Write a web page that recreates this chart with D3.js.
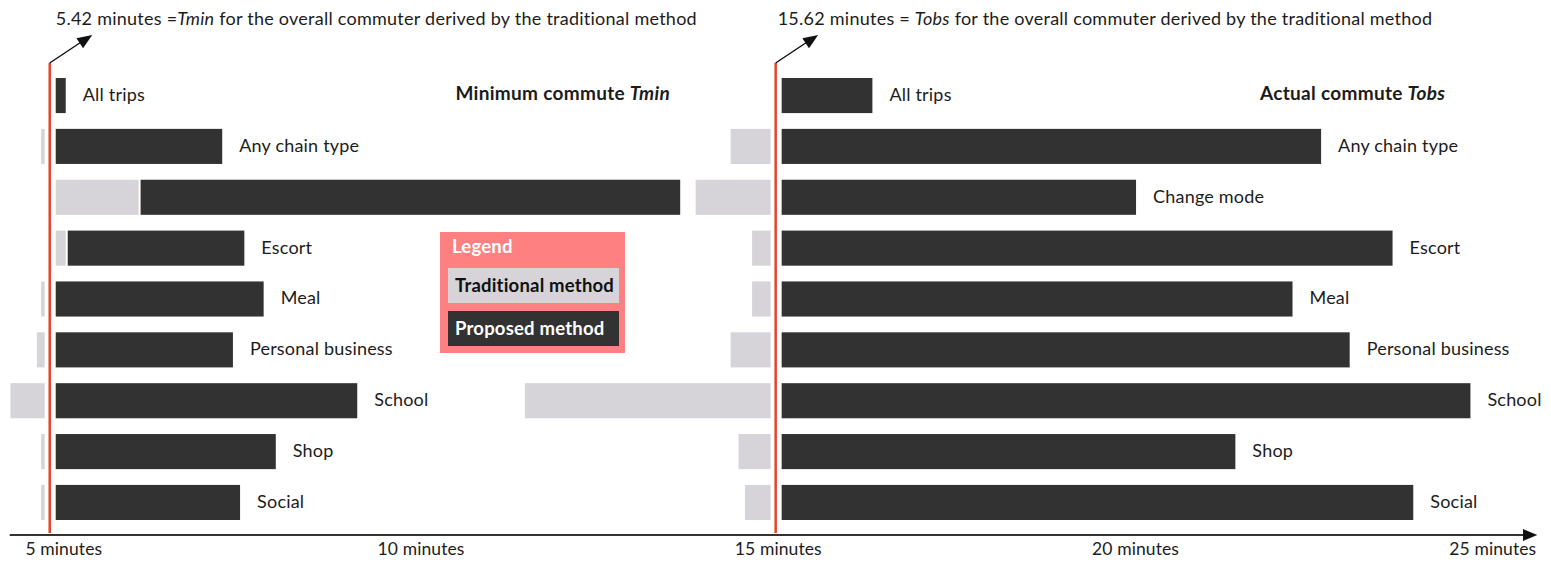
<!DOCTYPE html>
<html>
<head>
<meta charset="utf-8">
<script src="https://cdn.jsdelivr.net/npm/d3@7/dist/d3.min.js"></script>
<style>
  body { margin: 0; background: #fff; }
  svg { display: block; font-family: Lato, "Open Sans", sans-serif; }
</style>
</head>
<body>
<svg id="chart" width="1551" height="563"></svg>
<script>
// =======================================================
// Datos (minutos)
// =======================================================
const categorias = [
  "All trips", "Any chain type", "Change mode", "Escort", "Meal",
  "Personal business", "School", "Shop", "Social"
];

// Diferencia respecto a la referencia de cada panel (minutos)
const tminTradicional = [0, -0.05, 1.16, 0.14, -0.05, -0.11, -0.48, -0.05, -0.05];
const tminPropuesto   = [0.14, 2.33, 8.74, 2.64, 2.91, 2.48, 4.22, 3.08, 2.58];
const tobsTradicional = [0, -0.56, -1.05, -0.26, -0.26, -0.56, -3.44, -0.45, -0.36];
const tobsPropuesto   = [1.27, 7.55, 4.96, 8.55, 7.15, 7.95, 9.64, 6.35, 8.84];

const ticksMinutos = [5, 10, 15, 20, 25];

// Referencias del commuter general (método tradicional)
const TMIN = 5.42;
const TOBS = 15.62;
// Dónde cae cada línea roja sobre el eje dibujado
const posReferencia = [4.81, 14.97];

const sinEtiquetaTmin = ["Change mode"];

// =======================================================
// Estilos
// =======================================================
const COLOR_PROPUESTO = "#323232";
const COLOR_TRADICIONAL = "#d6d4d8";
const COLOR_ROJO = "#e5432a";
const COLOR_LEYENDA = "#ff8080";
const COLOR_TEXTO = "#1c1c1c";

const EJE_Y = 535;
const GAP_IZQ = 5, GAP_DER = 6;

const svg = d3.select("#chart");

const x = d3.scaleLinear().domain([5, 25]).range([63.3, 1492.3]);

const y = d3.scaleBand()
  .domain(categorias)
  .range([78, 520])
  .paddingInner(0.31)
  .paddingOuter(0);

// =======================================================
// PANELES
// =======================================================
const paneles = [
  { ref: posReferencia[0], trad: tminTradicional, prop: tminPropuesto, omitir: sinEtiquetaTmin },
  { ref: posReferencia[1], trad: tobsTradicional, prop: tobsPropuesto, omitir: [] },
];

paneles.forEach(p => {
  const x0 = x(p.ref);
  const largo = v => x(p.ref + v) - x0;

  const filas = categorias.map((c, i) => {
    const t = p.trad[i];
    const tradIni = t < 0 ? x0 - GAP_IZQ + largo(t) : x0 + GAP_DER;
    const tradFin = t < 0 ? x0 - GAP_IZQ : x0 + GAP_DER + largo(t);
    const propIni = t > 0 ? tradFin + 2 : x0 + GAP_DER;
    const propFin = x0 + GAP_DER + largo(p.prop[i]);
    return { c, t, tradIni, tradFin, propIni, propFin };
  });

  const g = svg.append("g").attr("class", "panel");

  g.selectAll("rect.trad")
    .data(filas.filter(d => d.t !== 0))
    .enter()
    .append("rect")
    .attr("class", "trad")
    .attr("x", d => d.tradIni)
    .attr("y", d => y(d.c))
    .attr("width", d => d.tradFin - d.tradIni)
    .attr("height", y.bandwidth())
    .attr("fill", COLOR_TRADICIONAL);

  g.selectAll("rect.prop")
    .data(filas)
    .enter()
    .append("rect")
    .attr("class", "prop")
    .attr("x", d => d.propIni)
    .attr("y", d => y(d.c))
    .attr("width", d => d.propFin - d.propIni)
    .attr("height", y.bandwidth())
    .attr("fill", COLOR_PROPUESTO);

  g.selectAll("text.etq")
    .data(filas.filter(d => !p.omitir.includes(d.c)))
    .enter()
    .append("text")
    .attr("class", "etq")
    .attr("x", d => d.propFin + 17)
    .attr("y", d => y(d.c) + y.bandwidth() / 2)
    .attr("dy", "0.3em")
    .style("font-size", "18px")
    .style("letter-spacing", "0.2px")
    .attr("fill", COLOR_TEXTO)
    .text(d => d.c);

  // línea roja de referencia
  g.append("line")
    .attr("x1", x0).attr("x2", x0)
    .attr("y1", 63).attr("y2", EJE_Y - 2)
    .attr("stroke", COLOR_ROJO)
    .attr("stroke-width", 2.5);

  // flecha hacia el texto
  g.append("line")
    .attr("x1", x0).attr("y1", 63)
    .attr("x2", x0 + 36).attr("y2", 39)
    .attr("stroke", "#111")
    .attr("stroke-width", 1.5);
  const ang = Math.atan2(-28, 42);
  const tip = [x0 + 42.5, 35];
  const L = 15, Wd = 6;
  const base = [tip[0] - L * Math.cos(ang), tip[1] - L * Math.sin(ang)];
  const nx = -Math.sin(ang), ny = Math.cos(ang);
  g.append("path")
    .attr("d", `M${tip[0]},${tip[1]}L${base[0] + nx * Wd},${base[1] + ny * Wd}L${base[0] - nx * Wd},${base[1] - ny * Wd}Z`)
    .attr("fill", "#111");
});

// =======================================================
// TEXTOS SUPERIORES
// =======================================================
function titulo(xPos, valor, sep, simbolo) {
  const t = svg.append("text")
    .attr("x", xPos)
    .attr("y", 25)
    .style("font-size", "18px")
    .style("letter-spacing", "0.25px")
    .attr("fill", COLOR_TEXTO);
  t.append("tspan").text(`${valor} minutes ${sep}`);
  t.append("tspan").style("font-style", "italic").text(simbolo);
  t.append("tspan").text(" for the overall commuter derived by the traditional method");
}
titulo(x(posReferencia[0]) + 6, TMIN.toFixed(2), "=", "Tmin");
titulo(x(posReferencia[1]) + 2, TOBS.toFixed(2), "= ", "Tobs");

const tA = svg.append("text")
  .attr("x", 670).attr("y", 100)
  .attr("text-anchor", "end")
  .style("font-size", "19px").style("font-weight", "bold")
  .style("letter-spacing", "0.3px")
  .attr("fill", COLOR_TEXTO);
tA.append("tspan").text("Minimum commute ");
tA.append("tspan").style("font-style", "italic").text("Tmin");

const tB = svg.append("text")
  .attr("x", 1260).attr("y", 100)
  .style("font-size", "19px").style("font-weight", "bold")
  .style("letter-spacing", "0.3px")
  .attr("fill", COLOR_TEXTO);
tB.append("tspan").text("Actual commute ");
tB.append("tspan").style("font-style", "italic").text("Tobs");

// =======================================================
// EJE
// =======================================================
const eje = svg.append("g")
  .attr("transform", `translate(0,${EJE_Y})`)
  .call(d3.axisBottom(x)
    .tickValues(ticksMinutos)
    .tickSize(0)
    .tickPadding(8)
    .tickFormat(d => `${d} minutes`));
eje.select(".domain").remove();
eje.selectAll("text")
  .style("font-size", "17.5px")
  .style("font-family", "Lato, 'Open Sans', sans-serif")
  .style("letter-spacing", "0.1px")
  .attr("fill", COLOR_TEXTO);

svg.append("line")
  .attr("x1", x(4.25)).attr("x2", x(25.45))
  .attr("y1", EJE_Y).attr("y2", EJE_Y)
  .attr("stroke", "#333")
  .attr("stroke-width", 2);
svg.append("path")
  .attr("d", `M${x(25.63)},${EJE_Y}L${x(25.43)},${EJE_Y - 6}L${x(25.43)},${EJE_Y + 6}Z`)
  .attr("fill", "#111");

// =======================================================
// LEYENDA
// =======================================================
const ley = svg.append("g").attr("transform", "translate(440,232)");
ley.append("rect")
  .attr("width", 185).attr("height", 121)
  .attr("fill", COLOR_LEYENDA);
ley.append("text")
  .attr("x", 12).attr("y", 21)
  .style("font-size", "18.5px").style("font-weight", "bold")
  .style("letter-spacing", "0.2px")
  .attr("fill", "#fff")
  .text("Legend");

const itemsLeyenda = [
  { nombre: "Traditional method", fill: COLOR_TRADICIONAL, texto: "#111" },
  { nombre: "Proposed method", fill: COLOR_PROPUESTO, texto: "#fff" },
];
itemsLeyenda.forEach((it, i) => {
  const gy = ley.append("g").attr("transform", `translate(8,${36 + i * 43})`);
  gy.append("rect")
    .attr("width", 171).attr("height", 35)
    .attr("fill", it.fill);
  gy.append("text")
    .attr("x", 7).attr("y", 17.5)
    .attr("dy", "0.35em")
    .style("font-size", "18.5px").style("font-weight", "bold")
    .style("letter-spacing", "0.2px")
    .attr("fill", it.texto)
    .text(it.nombre);
});
</script>
</body>
</html>
